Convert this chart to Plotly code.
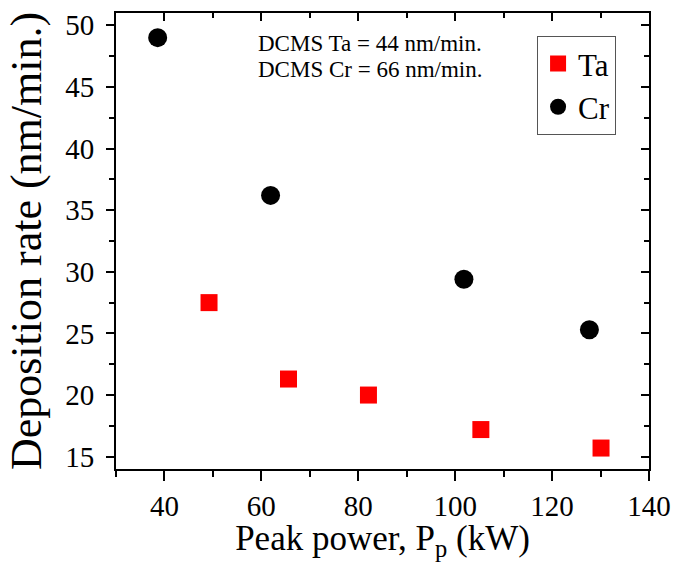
import plotly.graph_objects as go

ta_power = [49.2, 65.6, 82.1, 105.3, 130.1]
ta_rate = [27.5, 21.3, 20.0, 17.2, 15.7]
cr_power = [38.6, 61.9, 101.8, 127.7]
cr_rate = [49.0, 36.2, 29.4, 25.3]

x_ticks = [40, 60, 80, 100, 120, 140]
y_ticks = [15, 20, 25, 30, 35, 40, 45, 50]

FONT = "Liberation Serif"

fig = go.Figure()
fig.add_trace(go.Scatter(x=ta_power, y=ta_rate, mode="markers", name="Ta",
                         marker=dict(symbol="square", size=17, color="#ff0000", line=dict(width=0))))
fig.add_trace(go.Scatter(x=cr_power, y=cr_rate, mode="markers", name="Cr",
                         marker=dict(symbol="circle", size=19, color="#000000", line=dict(width=0))))
# invisible trace for mirrored (inside) ticks on top/right
fig.add_trace(go.Scatter(x=[None], y=[None], xaxis="x2", yaxis="y2", showlegend=False))

axis_common = dict(showline=True, linecolor="black", linewidth=2, showgrid=False, zeroline=False,
                   tickcolor="black", tickwidth=2)

fig.update_layout(
    width=681, height=562,
    margin=dict(l=116, r=28, t=10, b=93),
    paper_bgcolor="white", plot_bgcolor="white",
    font=dict(family=FONT, color="black"),
    xaxis=dict(range=[30, 140], tickvals=x_ticks, ticks="outside", ticklen=10,
               minor=dict(dtick=10, tick0=0, ticks="outside", ticklen=6, tickcolor="black", tickwidth=2),
               tickfont=dict(size=29, family=FONT),
               title=dict(text="Peak power, P<sub>p</sub> (kW)", font=dict(size=35, family=FONT), standoff=4),
               **axis_common),
    yaxis=dict(range=[14, 51], tickvals=y_ticks, ticks="outside", ticklen=8,
               minor=dict(dtick=2.5, tick0=0, ticks="outside", ticklen=5, tickcolor="black", tickwidth=2),
               tickfont=dict(size=29, family=FONT), ticklabelstandoff=6,
               title=dict(text="Deposition rate (nm/min.)", font=dict(size=44, family=FONT), standoff=10),
               **axis_common),
    xaxis2=dict(overlaying="x", side="top", matches="x", range=[30, 140], tickvals=x_ticks,
                ticks="inside", ticklen=8, showticklabels=False,
                minor=dict(dtick=10, tick0=0, ticks="inside", ticklen=5, tickcolor="black", tickwidth=2),
                **axis_common),
    yaxis2=dict(overlaying="y", side="right", matches="y", range=[14, 51], tickvals=y_ticks,
                ticks="inside", ticklen=8, showticklabels=False,
                minor=dict(dtick=2.5, tick0=0, ticks="inside", ticklen=5, tickcolor="black", tickwidth=2),
                **axis_common),
    legend=dict(x=0.79, y=0.95, xanchor="left", yanchor="top",
                bordercolor="#555555", borderwidth=1, bgcolor="white",
                font=dict(size=31, family=FONT), itemsizing="trace", tracegroupgap=0),
    showlegend=True,
)

fig.add_annotation(xref="paper", yref="paper", x=0.2626, y=0.933, xanchor="left", yanchor="middle",
                   text="DCMS Ta = 44 nm/min.", showarrow=False, font=dict(size=23, family=FONT))
fig.add_annotation(xref="paper", yref="paper", x=0.2626, y=0.877, xanchor="left", yanchor="middle",
                   text="DCMS Cr = 66 nm/min.", showarrow=False, font=dict(size=23, family=FONT))

fig.write_html("out.html")
